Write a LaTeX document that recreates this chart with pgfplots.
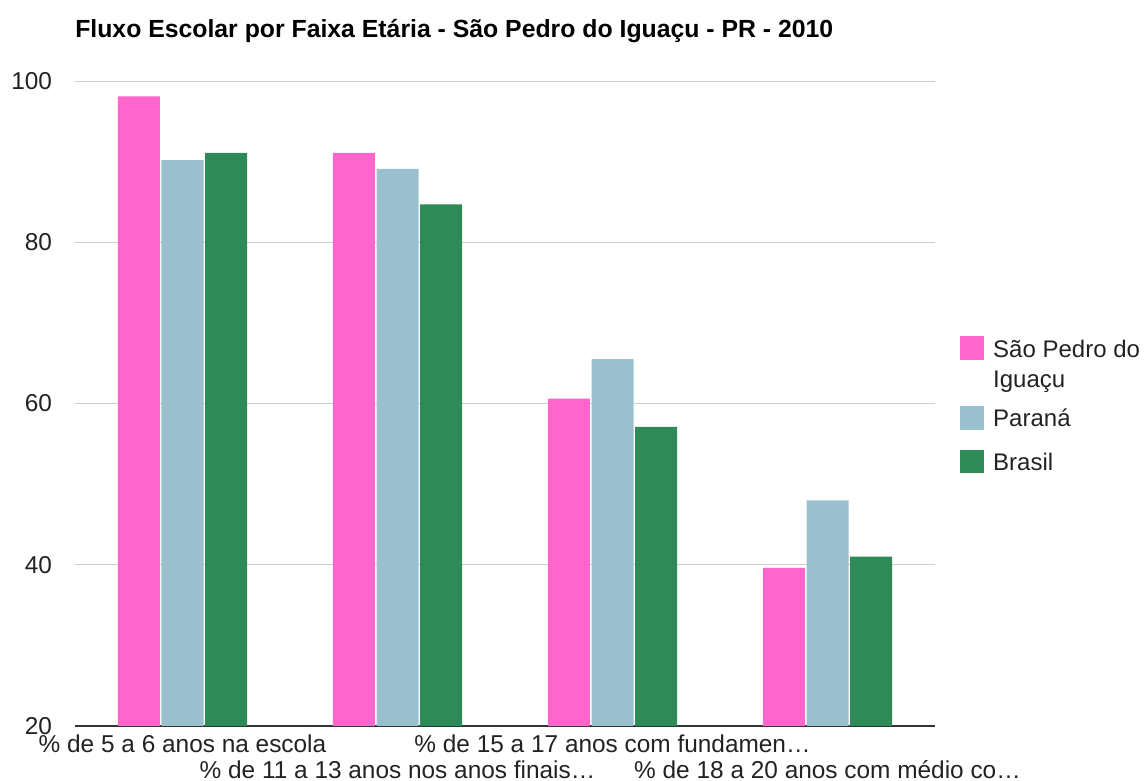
\documentclass[border=0pt]{standalone}
\usepackage{fontspec}
\setmainfont{Liberation Sans}
\usepackage{pgfplots}
\pgfplotsset{compat=1.18}
\definecolor{cpink}{HTML}{FF66CC}
\definecolor{cblue}{HTML}{9ABFCD}
\definecolor{cgreen}{HTML}{2E8B57}
\definecolor{cgrid}{HTML}{CCCCCC}
\definecolor{ctext}{HTML}{222222}
\definecolor{caxis}{HTML}{333333}
\pgfplotsset{mylegend/.style={legend image code/.code={\fill[##1,draw=none] (0pt,-8.2pt-#1) rectangle (17.5pt,9.4pt-#1); \path (24.75pt,0pt);}}}
\begin{document}
\begin{tikzpicture}
\path[use as bounding box] (-56.25pt,-41.25pt) rectangle (802.5pt,544.5pt);
\begin{axis}[
  at={(0pt,0pt)}, anchor=south west,
  scale only axis, width=645pt, height=483.75pt,
  xmin=-0.5, xmax=3.5, ymin=20, ymax=100,
  ytick={20,40,60,80,100},
  ymajorgrids, grid style={cgrid, line width=0.75pt},
  axis x line*=bottom, axis y line*=left,
  x axis line style={draw=caxis, line width=1.5pt, -},
  y axis line style={draw=none},
  major tick length=0pt,
  ybar=1.2pt, bar width=31.5pt,
  xtick={0,2},
  xticklabels={{\% de 5 a 6 anos na escola},{\% de 15 a 17 anos com fundamen…}},
  extra x ticks={1,3},
  extra x tick labels={{\% de 11 a 13 anos nos anos finais…},{\% de 18 a 20 anos com médio co…}},
  extra x tick style={xticklabel style={yshift=-19pt}},
  xticklabel style={font=\fontsize{18.3}{21}\selectfont, text=ctext, anchor=base, inner sep=0pt, yshift=-20pt},
  yticklabel style={font=\fontsize{18.3}{21}\selectfont, text=ctext, anchor=east, inner sep=0pt, xshift=-17pt},
  /pgf/number format/assume math mode=true,
  title={Fluxo Escolar por Faixa Etária - São Pedro do Iguaçu - PR - 2010},
  title style={at={(0,1)}, anchor=base west, yshift=26.5pt, inner sep=0pt, font=\bfseries\fontsize{18.6}{22}\selectfont, text=black},
  legend style={at={(1.029,0.605)}, anchor=north west, draw=none, fill=none, inner sep=0pt,
    font=\fontsize{18}{22.5}\selectfont, text=ctext, row sep=0pt, column sep=0pt,
    nodes={inner sep=0pt}},
  legend cell align=left,
]
\addplot[fill=cpink, draw=none, mylegend=0pt] coordinates {(0,98.1) (1,91.1) (2,60.6) (3,39.6)};
\addlegendimage{empty legend}
\addplot[fill=cblue, draw=none, mylegend=7.3pt] coordinates {(0,90.2) (1,89.1) (2,65.5) (3,48.0)};
\addplot[fill=cgreen, draw=none, mylegend=8.25pt] coordinates {(0,91.1) (1,84.7) (2,57.1) (3,41.0)};
\legend{{\rule[-7pt]{0pt}{22pt}São Pedro do},{\rule[-7pt]{0pt}{27.75pt}Iguaçu},{\rule[-7pt]{0pt}{35.25pt}Paraná},{\rule[-7pt]{0pt}{37.5pt}Brasil}}
\end{axis}
\end{tikzpicture}
\end{document}
